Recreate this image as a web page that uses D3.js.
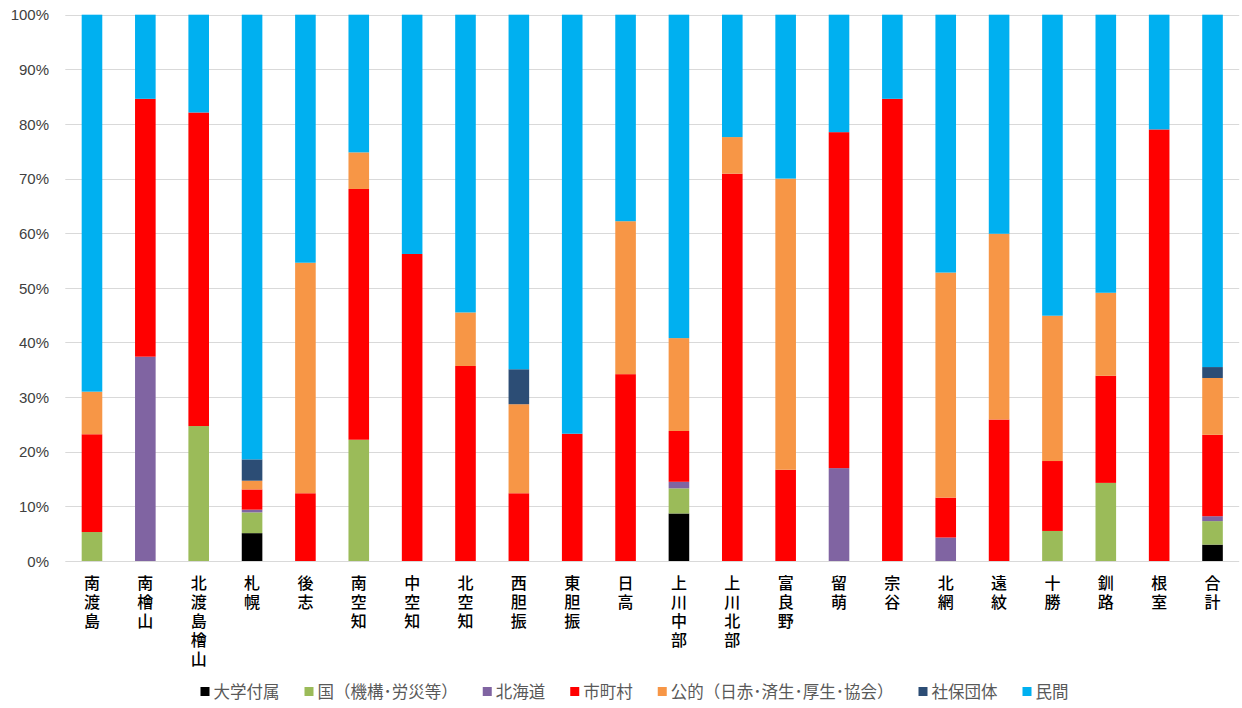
<!DOCTYPE html>
<html><head><meta charset="utf-8">
<script src="https://cdn.jsdelivr.net/npm/d3@7"></script>
<style>
body{margin:0;background:#fff;}
svg{display:block;}
</style></head>
<body><svg id="c" width="1242" height="708"></svg>
<script>
const categories = ["南渡島","南檜山","北渡島檜山","札幌","後志","南空知","中空知","北空知","西胆振","東胆振","日高","上川中部","上川北部","富良野","留萌","宗谷","北網","遠紋","十勝","釧路","根室","合計"];
const seriesNames = ["大学付属","国（機構･労災等）","北海道","市町村","公的（日赤･済生･厚生･協会）","社保団体","民間"];
const daigaku  = [0,0,0,5.1,0,0,0,0,0,0,0,8.7,0,0,0,0,0,0,0,0,0,3.0];
const kuni     = [5.3,0,24.7,3.8,0,22.2,0,0,0,0,0,4.6,0,0,0,0,0,0,5.5,14.3,0,4.3];
const hokkaido = [0,37.4,0,0.5,0,0,0,0,0,0,0,1.2,0,0,17.0,0,4.3,0,0,0,0,0.9];
const shichoson= [17.9,47.2,57.4,3.7,12.4,45.9,56.2,35.7,12.4,23.3,34.2,9.3,70.9,16.7,61.5,84.6,7.3,25.9,12.8,19.6,79.0,14.9];
const koteki   = [7.8,0,0,1.6,42.2,6.7,0,9.8,16.3,0,28.0,17.0,6.7,53.3,0,0,41.2,34.0,26.6,15.2,0,10.4];
const shaho    = [0,0,0,3.9,0,0,0,0,6.4,0,0,0,0,0,0,0,0,0,0,0,0,2.0];
const minkan   = [69.0,15.4,17.9,81.4,45.4,25.2,43.8,54.5,64.9,76.7,37.8,59.2,22.4,30.0,21.5,15.4,47.2,40.1,55.1,50.9,21.0,64.5];
const yTicks = [0,0.1,0.2,0.3,0.4,0.5,0.6,0.7,0.8,0.9,1.0];
const colors = ["#000000","#9BBB59","#8064A2","#FF0000","#F79646","#2C4D75","#00B0F0"];

(function(){
const seriesValues = [daigaku,kuni,hokkaido,shichoson,koteki,shaho,minkan];
const rows = categories.map((c,i)=>{const r={cat:c}; seriesNames.forEach((s,j)=>r[s]=seriesValues[j][i]); return r;});
const stack = d3.stack().keys(seriesNames).offset(d3.stackOffsetExpand)(rows);

const svg = d3.select("#c");
const pL=65.3, pR=1239.2, pT=14.7, pB=561;
const x = d3.scaleBand().domain(categories).range([pL,pR]).paddingInner(0.614).paddingOuter(0.307);
const y = d3.scaleLinear().domain([0,1]).range([pB,pT]);

svg.append("g").selectAll("line").data(yTicks).join("line")
  .attr("x1",pL).attr("x2",pR)
  .attr("y1",d=>Math.round(y(d))+0.5).attr("y2",d=>Math.round(y(d))+0.5)
  .attr("stroke","#d9d9d9").attr("stroke-width",1);

const yAxis = d3.axisLeft(y).tickValues(yTicks).tickFormat(d3.format(".0%")).tickSize(0).tickPadding(0);
const ga = svg.append("g").attr("transform",`translate(49,0)`).call(yAxis);
ga.select(".domain").remove();
ga.selectAll("text").attr("font-family","Liberation Sans, Arial, sans-serif").attr("font-size",15).attr("fill","#404040").attr("dy","0.35em");

svg.append("g").selectAll("g").data(stack).join("g")
  .attr("fill",(d,i)=>colors[i])
  .selectAll("rect").data(d=>d).join("rect")
  .attr("x",d=>x(d.data.cat)).attr("width",x.bandwidth())
  .attr("y",d=>y(d[1])).attr("height",d=>Math.max(0,y(d[0])-y(d[1])));

// vertical category labels (one text per category, upright vertical writing)
svg.append("g").selectAll("text").data(categories).join("text")
  .attr("x",d=>x(d)+x.bandwidth()/2).attr("y",575)
  .style("writing-mode","vertical-rl").style("text-orientation","upright")
  .style("letter-spacing","3px")
  .attr("font-family","Noto Sans CJK JP").attr("font-weight",500)
  .attr("font-size",16).attr("fill","#000").text(d=>d);

const lg = svg.append("g");
let cx=0;
seriesNames.forEach((s,i)=>{
  const g=lg.append("g").attr("transform",`translate(${cx},0)`);
  g.append("rect").attr("x",0).attr("y",-5).attr("width",9).attr("height",9).attr("fill",colors[i]);
  const t=g.append("text").attr("x",13).attr("y",0).attr("dy","0.35em").attr("font-family","Noto Sans CJK JP")
    .attr("font-size",16.5).attr("fill","#595959").text(s);
  const w=t.node().getComputedTextLength();
  cx+=13+w+25;
});
const total=cx-25;
lg.attr("transform",`translate(${(200+1069)/2-total/2},692)`);
})();
</script></body></html>
